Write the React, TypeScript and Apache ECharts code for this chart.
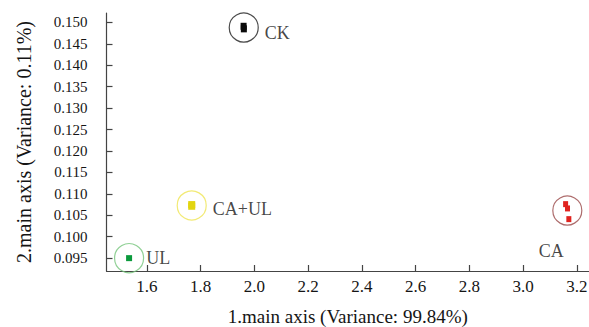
import React, { useEffect, useRef } from "react";
import * as echarts from "echarts";

// Group names and replicate coordinates
const groupNames = ["CK", "CA+UL", "UL", "CA"];
const ckX = [1.96, 1.961];
const ckY = [0.1491, 0.1485];
const caulX = [1.767, 1.767];
const caulY = [0.1075, 0.1071];
const ulX = [1.534];
const ulY = [0.095];
const caX = [3.158, 3.165, 3.17];
const caY = [0.1076, 0.1066, 0.1041];

// Axis tick labels
const xTicks = [1.6, 1.8, 2.0, 2.2, 2.4, 2.6, 2.8, 3.0, 3.2];
const yTicks = [0.095, 0.1, 0.105, 0.11, 0.115, 0.12, 0.125, 0.13, 0.135, 0.14, 0.145, 0.15];

const xTitle = "1.main axis (Variance: 99.84%)";
const yTitle = "2.main axis (Variance: 0.11%)";

const FONT = "'Liberation Serif', 'Times New Roman', serif";
const TEXT = "#151515";

const mean = (a: number[]) => a.reduce((s, v) => s + v, 0) / a.length;

export default function App() {
  const ref = useRef<HTMLDivElement>(null);
  useEffect(() => {
    if (!ref.current) return;
    const chart = echarts.init(ref.current, null, { renderer: "svg" });

    const groups = [
      { name: groupNames[0], xs: ckX, ys: ckY, marker: "#0a0a0a", ring: "#1e1e1e", size: [6, 7], label: { position: "right", distance: 6, offset: [0, 5] } },
      { name: groupNames[1], xs: caulX, ys: caulY, marker: "#e2d510", ring: "#efe552", size: [7, 7], label: { position: "right", distance: 6, offset: [0, 4] } },
      { name: groupNames[2], xs: ulX, ys: ulY, marker: "#0b9a3c", ring: "#74c47a", size: [6, 6], label: { position: "right", distance: 2, offset: [0, 0] } },
      { name: groupNames[3], xs: caX, ys: caY, marker: "#e0231f", ring: "#9a4848", size: [5, 6], label: { position: "bottom", distance: 16, offset: [-16, 0] } },
    ];

    const markerSeries = groups.map((g) => ({
      type: "scatter",
      name: g.name,
      symbol: "rect",
      symbolSize: g.size,
      itemStyle: { color: g.marker, opacity: 1 },
      data: g.xs.map((x, i) => [x, g.ys[i]]),
      z: 3,
    }));

    const ringSeries = {
      type: "scatter",
      name: "groups",
      symbol: "circle",
      symbolSize: 29,
      z: 2,
      data: groups.map((g) => ({
        name: g.name,
        value: [mean(g.xs), mean(g.ys)],
        itemStyle: { color: "rgba(0,0,0,0)", borderColor: g.ring, borderWidth: 1.2 },
        label: {
          show: true,
          formatter: g.name,
          position: g.label.position,
          distance: g.label.distance,
          offset: g.label.offset,
          color: TEXT,
          fontFamily: FONT,
          fontSize: 18,
        },
      })),
    };

    chart.setOption({
      animation: false,
      backgroundColor: "#ffffff",
      grid: { left: 106.5, top: 13, right: 0, bottom: 56, containLabel: false, outerBoundsMode: "none" },
      xAxis: {
        type: "value",
        min: 1.45,
        max: 3.245,
        name: xTitle,
        nameLocation: "middle",
        nameGap: 35,
        nameTextStyle: { color: TEXT, fontFamily: FONT, fontSize: 19, lineHeight: 20 },
        axisLine: { show: true, onZero: false, lineStyle: { color: "#444", width: 1.2 } },
        axisTick: { show: true, inside: true, length: 6, customValues: xTicks, lineStyle: { color: "#444", width: 1.2 } },
        axisLabel: {
          customValues: xTicks,
          formatter: (v: number) => v.toFixed(1),
          margin: 7,
          color: TEXT,
          fontFamily: FONT,
          fontSize: 17,
        },
        splitLine: { show: false },
      },
      yAxis: {
        type: "value",
        min: 0.092,
        max: 0.1522,
        name: yTitle,
        nameLocation: "middle",
        nameGap: 73,
        nameTextStyle: { color: TEXT, fontFamily: FONT, fontSize: 20 },
        axisLine: { show: true, onZero: false, lineStyle: { color: "#444", width: 1.2 } },
        axisTick: { show: true, inside: true, length: 6, customValues: yTicks, lineStyle: { color: "#444", width: 1.2 } },
        axisLabel: {
          customValues: yTicks,
          formatter: (v: number) => v.toFixed(3),
          margin: 19,
          color: TEXT,
          fontFamily: FONT,
          fontSize: 15,
        },
        splitLine: { show: false },
      },
      series: [ringSeries, ...markerSeries],
    });
    return () => chart.dispose();
  }, []);
  return <div ref={ref} style={{ position: "fixed", left: 0, top: 0, width: 589, height: 327 }} />;
}
